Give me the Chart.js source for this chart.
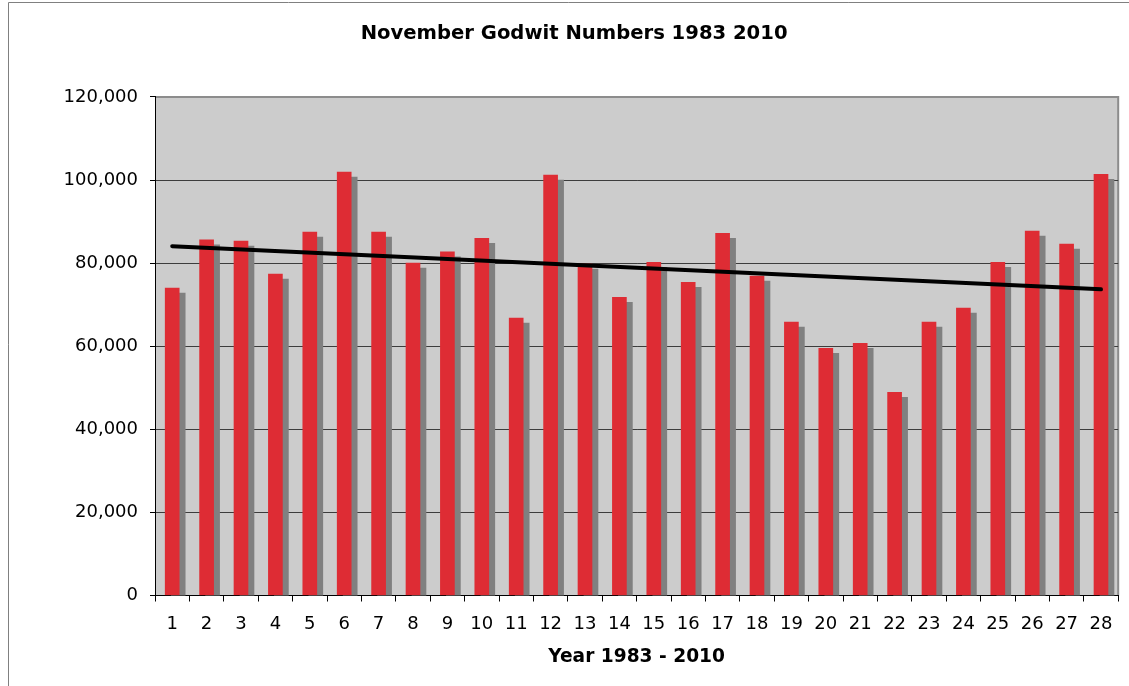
<!DOCTYPE html>
<html>
<head>
<meta charset="utf-8">
<script src="https://cdn.jsdelivr.net/npm/chart.js@4.4.1/dist/chart.umd.min.js"></script>
<style>
  html, body { margin: 0; padding: 0; background: #fff; }
  #wrap { position: relative; width: 1129px; height: 686px; }
</style>
</head>
<body>
<div id="wrap"><canvas id="c"></canvas></div>
<script>
// ---- Data ----
const categories = ["1","2","3","4","5","6","7","8","9","10","11","12","13","14","15","16","17","18","19","20","21","22","23","24","25","26","27","28"];
const godwitCounts = [74000, 85600, 85300, 77400, 87500, 101900, 87500, 80000, 82700, 86000, 66800, 101200, 79800, 71800, 80200, 75400, 87200, 76900, 65800, 59500, 60700, 48900, 65800, 69200, 80200, 87700, 84600, 101400];
// Trend line end points, other categories empty
const trendValues = [84100, null, null, null, null, null, null, null, null, null, null, null, null, null, null, null, null, null, null, null, null, null, null, null, null, null, null, 73700];
const yTickValues = [0, 20000, 40000, 60000, 80000, 100000, 120000];
const chartTitle = "November Godwit Numbers 1983 2010";
const xAxisTitle = "Year 1983 - 2010";

const FONT = "'DejaVu Sans', Verdana, sans-serif";

const decorPlugin = {
  id: 'decor',
  beforeDraw(chart) {
    const { ctx, chartArea: a, width, height } = chart;
    ctx.save();
    ctx.fillStyle = '#ffffff';
    ctx.fillRect(0, 0, width, height);
    // outer frame (left and top visible)
    ctx.strokeStyle = '#808080';
    ctx.lineWidth = 1;
    ctx.beginPath();
    ctx.moveTo(8.5, height);
    ctx.lineTo(8.5, 2.5);
    ctx.lineTo(width, 2.5);
    ctx.stroke();
    // plot area background
    ctx.fillStyle = '#cccccc';
    ctx.fillRect(a.left, a.top, a.right - a.left, a.bottom - a.top);
    ctx.strokeStyle = '#8c8c8c';
    ctx.lineWidth = 2;
    ctx.beginPath();
    ctx.moveTo(a.left, a.top);
    ctx.lineTo(a.right, a.top);
    ctx.lineTo(a.right, a.bottom);
    ctx.stroke();
    ctx.restore();
  },
  beforeDatasetDraw(chart, args) {
    if (args.meta.type !== 'bar') return;
    const ctx = chart.ctx;
    ctx.save();
    ctx.shadowColor = '#808080';
    ctx.shadowOffsetX = 6;
    ctx.shadowOffsetY = 5;
    ctx.shadowBlur = 0;
  },
  afterDatasetDraw(chart, args) {
    if (args.meta.type !== 'bar') return;
    chart.ctx.restore();
  }
};

new Chart(document.getElementById('c'), {
  type: 'bar',
  data: {
    labels: categories,
    datasets: [
      {
        type: 'line',
        data: trendValues,
        borderColor: '#000000',
        borderWidth: 4,
        borderCapStyle: 'round',
        pointRadius: 0,
        spanGaps: true,
        fill: false,
        order: 0
      },
      {
        type: 'bar',
        data: godwitCounts,
        backgroundColor: '#de2c34',
        borderWidth: 0,
        barThickness: 14,
        clip: 0,
        order: 1
      }
    ]
  },
  plugins: [decorPlugin],
  options: {
    responsive: true,
    maintainAspectRatio: false,
    animation: false,
    layout: { padding: { left: 30, right: 10.8, top: 0, bottom: 0 } },
    plugins: {
      legend: { display: false },
      tooltip: { enabled: false },
      title: {
        display: true,
        text: chartTitle,
        color: '#000000',
        font: { family: FONT, size: 19.6, weight: 'bold' },
        padding: { top: 22, bottom: 51.48 }
      }
    },
    scales: {
      x: {
        offset: true,
        grid: {
          offset: true,
          drawOnChartArea: false,
          drawTicks: true,
          tickLength: 6,
          tickColor: '#000000'
        },
        border: { display: true, color: '#000000', width: 1 },
        ticks: {
          color: '#000000',
          font: { family: FONT, size: 18 },
          padding: 12,
          autoSkip: false,
          maxRotation: 0
        },
        title: {
          display: true,
          text: xAxisTitle,
          color: '#000000',
          font: { family: FONT, size: 18.6, weight: 'bold' },
          padding: { top: 0, bottom: 18 }
        },
        afterFit(scale) { scale.height = 90.5; }
      },
      y: {
        min: 0,
        max: 120000,
        afterBuildTicks(scale) { scale.ticks = yTickValues.map(v => ({ value: v })); },
        grid: {
          color(ctx) {
            const v = ctx.tick ? ctx.tick.value : null;
            if (v === 120000) return '#8c8c8c';
            if (v === 0) return 'rgba(0,0,0,0)';
            return '#3c3c3c';
          },
          lineWidth: 1,
          drawTicks: true,
          tickLength: 5,
          tickColor: '#000000'
        },
        border: { display: true, color: '#000000', width: 1 },
        ticks: {
          color: '#000000',
          font: { family: FONT, size: 18 },
          padding: 12,
          callback: v => Number(v).toLocaleString('en-US')
        },
        afterFit(scale) { scale.width = 125; }
      }
    }
  }
});
</script>
</body>
</html>
